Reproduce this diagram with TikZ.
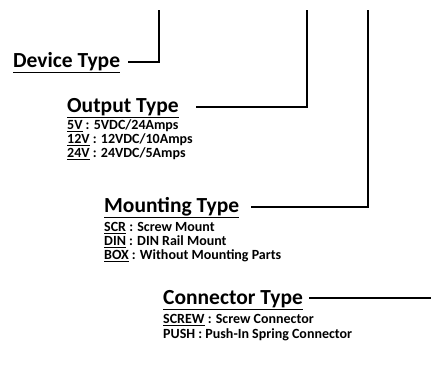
\documentclass[tikz,border=0pt]{standalone}
\usepackage{fontspec}
\setmainfont{Carlito}
\newcommand{\tul}[1]{\setbox0\hbox{#1}\rlap{\rule[-5.6pt]{\wd0}{1pt}}\box0\relax}
\newcommand{\iul}[1]{\setbox0\hbox{#1}\rlap{\rule[-2.8pt]{\wd0}{0.8pt}}\box0\relax}
\begin{document}
\begin{tikzpicture}[x=1pt,y=1pt,
  title/.style={anchor=base west,inner sep=0pt,font=\bfseries\fontsize{21.5}{24}\selectfont},
  item/.style={anchor=base west,inner sep=0pt,font=\bfseries\fontsize{14}{16}\selectfont},
  leader/.style={line width=2pt,line cap=butt,line join=miter}]
\useasboundingbox (0,0) rectangle (431,-367);
% titles
\node[title] (dev) at (13,-67) {\tul{Device Type}};
\node[title] (out) at (67,-112) {\tul{Output Type}};
\node[title] (mnt) at (104,-212) {\tul{Mounting Type}};
\node[title] (con) at (163,-304) {\tul{Connector Type}};
% items
\node[item] (o1) at (67,-129) {\iul{5V} : 5VDC/24Amps};
\node[item] (o2) at (67,-143) {\iul{12V} : 12VDC/10Amps};
\node[item] (o3) at (67,-157) {\iul{24V} : 24VDC/5Amps};
\node[item] (m1) at (104,-231) {\iul{SCR} : Screw Mount};
\node[item] (m2) at (104,-245) {\iul{DIN} : DIN Rail Mount};
\node[item] (m3) at (104,-259) {\iul{BOX} : Without Mounting Parts};
\node[item] (c1) at (163,-323) {\iul{SCREW} : Screw Connector};
\node[item] (c2) at (163,-338) {PUSH : Push-In Spring Connector};
% leader coordinates
\coordinate (t1) at (159,-10);
\coordinate (t2) at (307,-10);
\coordinate (t3) at (368,-10);
\coordinate (e4) at (431,-298);
\coordinate (s1) at ([xshift=8pt]dev.east |- 0,-62);
\coordinate (s2) at ([xshift=17pt]out.east |- 0,-107);
\coordinate (s3) at ([xshift=12pt]mnt.east |- 0,-207);
\coordinate (s4) at ([xshift=6pt]con.east |- 0,-298);
\draw[leader] (t1) |- (s1);
\draw[leader] (t2) |- (s2);
\draw[leader] (t3) |- (s3);
\draw[leader] (e4) -- (s4);
\end{tikzpicture}
\end{document}
